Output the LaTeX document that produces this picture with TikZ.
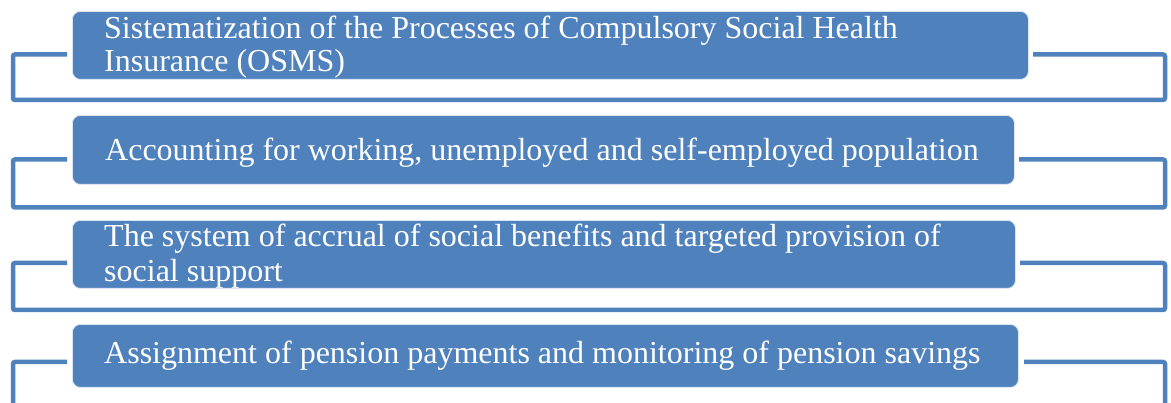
\documentclass[tikz,border=0pt]{standalone}
\usepackage{fontspec}
\setmainfont{Liberation Serif}
\definecolor{boxblue}{HTML}{4F81BD}
\definecolor{boxedge}{HTML}{DCE6F2}
\begin{document}
\begin{tikzpicture}[x=1pt,y=-1pt,
  box/.style={fill=boxblue, draw=boxedge, line width=0.8pt, rounded corners=8pt,
    anchor=north west, inner sep=0pt},
  brk/.style={draw=boxblue, line width=4.5pt, rounded corners=2pt},
  txt/.style={text=white, font=\fontsize{32}{34}\selectfont, anchor=base west, inner sep=0pt}]
\useasboundingbox (0,0) rectangle (1171,403);
\clip (0,0) rectangle (1171,403);
% brackets
\coordinate (l1) at (67,54.5); \coordinate (r1) at (1033,54.5);
\coordinate (l2) at (67,159.5); \coordinate (r2) at (1019,159.5);
\coordinate (l3) at (67,263); \coordinate (r3) at (1020,263);
\coordinate (l4) at (67,362); \coordinate (r4) at (1024,362);
\draw[brk] (l1) -- (13,54.5) -- (13,100) -- (1165,100) -- (1165,54.5) -- (r1);
\draw[brk] (l2) -- (13,159.5) -- (13,207.5) -- (1165,207.5) -- (1165,159.5) -- (r2);
\draw[brk] (l3) -- (13,263) -- (13,310) -- (1165,310) -- (1165,263) -- (r3);
\draw[brk] (l4) -- (13,362) -- (13,430) -- (1165,430) -- (1165,362) -- (r4);
% boxes
\node[box, minimum width=956pt, minimum height=68pt] (b1) at (72,11) {};
\node[box, minimum width=942pt, minimum height=69pt] (b2) at (72,115) {};
\node[box, minimum width=943pt, minimum height=68pt] (b3) at (72,220) {};
\node[box, minimum width=946pt, minimum height=63pt] (b4) at (72,324) {};
% texts
\node[txt] (t1a) at (104,39) {Sistematization of the Processes of Compulsory Social Health};
\node[txt] (t1b) at (104,72) {Insurance (OSMS)};
\node[txt] (t2) at (105,161) {Accounting for working, unemployed and self-employed population};
\node[txt] (t3a) at (104,247) {The system of accrual of social benefits and targeted provision of};
\node[txt] (t3b) at (104,282) {social support};
\node[txt] (t4) at (104,364) {Assignment of pension payments and monitoring of pension savings};
\end{tikzpicture}
\end{document}
